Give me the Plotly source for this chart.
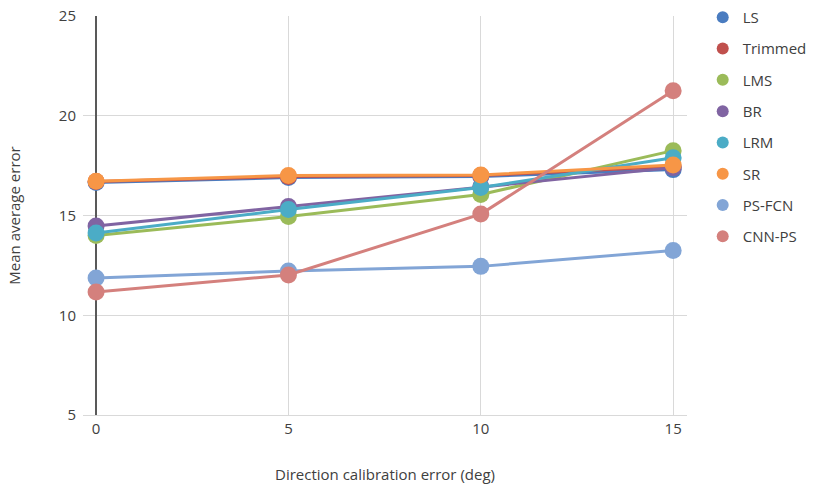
import plotly.graph_objects as go

x_vals = [0, 5, 10, 15]
series_names = ["LS", "Trimmed", "LMS", "BR", "LRM", "SR", "PS-FCN", "CNN-PS"]
LS = [16.65, 16.9, 16.95, 17.3]
Trimmed = [16.7, 16.95, 17.0, 17.45]
LMS = [14.0, 14.95, 16.05, 18.25]
BR = [14.47, 15.45, 16.45, 17.4]
LRM = [14.12, 15.3, 16.4, 17.9]
SR = [16.72, 17.0, 17.03, 17.53]
PS_FCN = [11.87, 12.22, 12.45, 13.25]
CNN_PS = [11.17, 12.02, 15.07, 21.25]
series_values = [LS, Trimmed, LMS, BR, LRM, SR, PS_FCN, CNN_PS]
colors = ["#4a7cc0", "#c0504d", "#9bbb59", "#8064a2", "#4bacc6", "#f79646", "#82a5d6", "#d4807d"]

fig = go.Figure()
font_family = "Open Sans, Noto Sans, sans-serif"

for name, vals, c in zip(series_names, series_values, colors):
    fig.add_trace(go.Scatter(
        x=x_vals, y=vals, mode="lines+markers", name=name,
        line=dict(color=c, width=3),
        marker=dict(color=c, size=17),
        showlegend=False,
    ))

for name, c in zip(series_names, colors):
    fig.add_trace(go.Scatter(
        x=[None], y=[None], mode="markers", name=name,
        marker=dict(color=c, size=17), legendgroup=name, showlegend=True,
    ))

fig.update_layout(
    width=814, height=487,
    margin=dict(l=83, r=127, t=16, b=72, autoexpand=False),
    plot_bgcolor="white", paper_bgcolor="white",
    font=dict(family=font_family, size=15, color="#404040"),
    legend=dict(x=1.026, y=1.0376, xanchor="left", yanchor="top",
                tracegroupgap=8.8, font=dict(size=15, color="#404040"),
                itemsizing="constant", maxheight=480),
    xaxis=dict(
        range=[-0.34, 15.36], tickvals=x_vals, ticktext=[str(v) for v in x_vals],
        showgrid=True, gridcolor="#d9d9d9", gridwidth=1,
        zeroline=True, zerolinecolor="#595959", zerolinewidth=1.5,
        showline=True, linecolor="#d9d9d9", linewidth=1,
        ticks="", tickfont=dict(size=15), automargin=False,
        title=dict(text="Direction calibration error (deg)", standoff=32, font=dict(size=15)),
    ),
    yaxis=dict(
        range=[5, 25], tickvals=[5, 10, 15, 20, 25],
        showgrid=True, gridcolor="#d9d9d9", gridwidth=1,
        zeroline=False, showline=False, ticks="", automargin=False,
        tickfont=dict(size=15), ticklabelstandoff=6,
        title=dict(text="Mean average error", standoff=34, font=dict(size=15)),
    ),
)

# remove the browser's default 8px body margin so the figure sits at the page corner
fig.write_html("out.html", config={"displayModeBar": False},
               post_script="document.body.style.margin='0';")
